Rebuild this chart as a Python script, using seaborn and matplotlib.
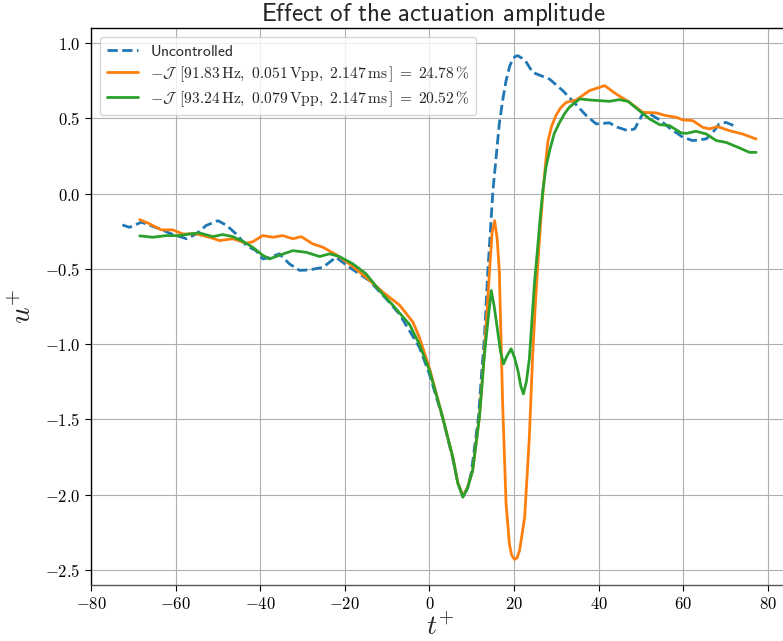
import numpy as np
import pandas as pd
import matplotlib
matplotlib.use("Agg")
import matplotlib.pyplot as plt
import seaborn as sns

# ---------------- data ----------------
unc_t = [-72.6, -70.9, -68.1, -64.2, -61.0, -57.4, -55.1, -52.8, -50.0, -48.0,
         -45.7, -43.3, -41.0, -39.4, -37.8, -35.5, -33.1, -30.7, -28.4, -25.2,
         -22.1, -18.9, -14.2, -10.2, -7.1, -3.9, -2.4, 0.0, 3.1, 5.5, 6.7, 7.9, 9.0, 9.9,
         11.6, 12.3, 13.0, 13.8, 15.0, 16.5, 17.3, 18.1, 19.0, 19.7, 20.3, 20.9, 21.8, 22.9, 24.4, 28.4, 31.5,
         34.7, 37.0, 39.4, 42.5, 44.5, 46.9, 48.5, 50.4, 51.4, 54.4, 57.0, 59.9,
         62.2, 65.4, 66.8, 68.5, 70.1, 72.7]
unc_u = [-0.208, -0.224, -0.190, -0.230, -0.268, -0.300, -0.268, -0.212, -0.180, -0.210,
         -0.268, -0.345, -0.379, -0.434, -0.425, -0.400, -0.467, -0.510, -0.507, -0.490,
         -0.423, -0.490, -0.578, -0.700, -0.800, -0.950, -1.020, -1.200, -1.490, -1.760, -1.920, -2.010, -1.960, -1.850,
         -1.480, -1.200, -0.950, -0.510, 0.020, 0.463, 0.620, 0.750, 0.850, 0.894, 0.912, 0.916, 0.900, 0.872, 0.805, 0.760, 0.684,
         0.590, 0.520, 0.463, 0.470, 0.440, 0.418, 0.430, 0.530, 0.540, 0.490, 0.430, 0.374,
         0.352, 0.363, 0.400, 0.463, 0.473, 0.442]

c1_t = [-68.5, -66.2, -63.4, -60.7, -58.3, -55.1, -52.0, -49.6, -46.5, -43.3,
        -41.8, -39.4, -37.0, -34.7, -32.3, -30.3, -27.6, -25.2, -22.1, -18.9,
        -15.0, -11.0, -7.1, -3.9, -2.4, 0.0, 3.1, 5.5, 6.7, 7.9, 9.0, 10.2, 11.8, 13.0,
        14.2, 14.8, 15.4, 16.0, 16.5, 17.3, 18.1, 18.9, 19.4, 20.1, 20.7, 21.3, 22.5, 23.6, 24.4, 25.0,
        25.6, 26.2, 26.8, 27.4, 28.0, 28.9, 29.9, 31.0, 32.3, 34.7, 37.8, 41.4, 44.1, 47.3, 50.4, 53.6,
        55.9, 58.3, 59.9, 62.2, 64.6, 66.2, 68.1, 70.9, 74.0, 77.2]
c1_u = [-0.173, -0.200, -0.241, -0.241, -0.268, -0.268, -0.290, -0.312, -0.300, -0.330,
        -0.320, -0.279, -0.290, -0.279, -0.300, -0.286, -0.334, -0.356, -0.405, -0.467,
        -0.556, -0.655, -0.740, -0.854, -0.954, -1.160, -1.485, -1.750, -1.920, -2.010, -1.950, -1.840, -1.485, -1.050,
        -0.510, -0.260, -0.180, -0.300, -0.510, -1.400, -2.060, -2.330, -2.400, -2.430, -2.420, -2.370, -2.150, -1.620, -1.065, -0.750,
        -0.470, -0.220, 0.000, 0.190, 0.350, 0.450, 0.520, 0.570, 0.606, 0.622, 0.684, 0.717, 0.662, 0.606, 0.540, 0.536,
        0.518, 0.507, 0.489, 0.485, 0.440, 0.430, 0.445, 0.418, 0.396, 0.363]

c2_t = [-68.5, -65.4, -62.2, -59.1, -56.7, -54.4, -51.2, -48.9, -46.5, -44.1,
        -41.8, -39.4, -37.8, -35.5, -32.3, -29.1, -26.0, -23.6, -21.3, -18.1,
        -15.0, -11.8, -8.7, -4.7, -2.4, 0.0, 3.1, 5.5, 6.7, 7.9, 9.0, 10.2, 11.8, 13.0,
        13.8, 14.6, 15.3, 16.1, 16.8, 17.5, 18.3, 19.3, 20.1, 20.9, 21.6, 22.2,
        22.9, 23.6, 24.2, 24.8, 25.6, 26.2, 26.8, 27.5, 28.4, 29.5, 30.7, 31.9, 33.1, 35.5, 37.8, 42.5, 44.9,
        46.9, 49.6, 52.0, 54.4, 56.7, 59.5, 60.7, 63.0, 65.4, 67.8, 70.1, 73.3,
        75.6, 77.2]
c2_u = [-0.281, -0.290, -0.279, -0.279, -0.268, -0.261, -0.286, -0.272, -0.286, -0.317,
        -0.356, -0.410, -0.434, -0.410, -0.379, -0.390, -0.418, -0.400, -0.418, -0.467,
        -0.533, -0.644, -0.740, -0.870, -1.000, -1.175, -1.485, -1.750, -1.925, -2.017, -1.955, -1.840, -1.485, -1.065,
        -0.850, -0.644, -0.750, -0.910, -1.050, -1.131, -1.080, -1.031, -1.090, -1.175, -1.280, -1.330,
        -1.250, -1.100, -0.850, -0.600, -0.350, -0.150, 0.020, 0.170, 0.286, 0.400, 0.470, 0.530, 0.575, 0.629, 0.622, 0.613, 0.624,
        0.613, 0.551, 0.496, 0.458, 0.452, 0.403, 0.400, 0.414, 0.396, 0.352, 0.340, 0.303,
        0.274, 0.274]

labels = [r"$\mathsf{Uncontrolled}$",
          r"$-\mathcal{J}\ \,[91.83\,\mathrm{Hz},\ 0.051\,\mathrm{Vpp},\ 2.147\,\mathrm{ms}\,]\;=\;24.78\,\%$",
          r"$-\mathcal{J}\ \,[93.24\,\mathrm{Hz},\ 0.079\,\mathrm{Vpp},\ 2.147\,\mathrm{ms}\,]\;=\;20.52\,\%$"]
xticks = [-80, -60, -40, -20, 0, 20, 40, 60, 80]
yticks = [1.0, 0.5, 0.0, -0.5, -1.0, -1.5, -2.0, -2.5]
title = r"$\mathsf{Effect\ of\ the\ actuation\ amplitude}$"

# ---------------- style ----------------
sns.set_style("ticks", {"axes.grid": True, "grid.color": "#b0b0b0",
                        "axes.edgecolor": "black", "xtick.color": "black",
                        "ytick.color": "black"})
plt.rcParams["font.family"] = ["DejaVu Sans"]
plt.rcParams["mathtext.fontset"] = "cm"

colors = sns.color_palette("tab10")

fig = plt.figure(figsize=(7.83, 6.41), dpi=100)
ax = fig.add_axes([91 / 783, 1 - 585 / 641, (790.8 - 91) / 783, (585 - 28) / 641])

df_u = pd.DataFrame({"t": unc_t, "u": unc_u})
df_1 = pd.DataFrame({"t": c1_t, "u": c1_u})
df_2 = pd.DataFrame({"t": c2_t, "u": c2_u})

common = dict(ax=ax, lw=2.0, sort=False, solid_joinstyle="round",
              solid_capstyle="round")
sns.lineplot(data=df_u, x="t", y="u", color=colors[0], linestyle="--",
             label=labels[0], **common)
sns.lineplot(data=df_1, x="t", y="u", color=colors[1], label=labels[1], **common)
sns.lineplot(data=df_2, x="t", y="u", color=colors[2], label=labels[2], **common)

ax.set_xlim(-80, 85.4)
ax.set_ylim(-2.6, 1.1)
ax.set_xticks(xticks)
ax.set_xticklabels([r"$%d$" % v for v in xticks], fontsize=12)
ax.set_yticks(yticks)
ax.set_yticklabels([r"$%.1f$" % v for v in yticks], fontsize=12)
ax.grid(True, color="#b0b0b0", lw=0.8)
ax.tick_params(length=4, width=0.8)
for s in ["left", "bottom", "top"]:
    ax.spines[s].set_linewidth(1.0)
    ax.spines[s].set_color("black")
ax.spines["bottom"].set_color("#555555")
ax.spines["right"].set_visible(False)

ax.set_xlabel(r"$t^{+}$", fontsize=20, labelpad=0)
ax.set_ylabel(r"$u^{+}$", fontsize=21, labelpad=6)
ax.set_title(title, fontsize=18, x=0.489, pad=4)

leg = ax.legend(loc="upper left", fontsize=11.2, frameon=True,
                bbox_to_anchor=(0.0, 1.0), borderaxespad=0.6,
                handlelength=2.0, borderpad=0.4, labelspacing=0.35)

fig.savefig("out.png", dpi=100)
